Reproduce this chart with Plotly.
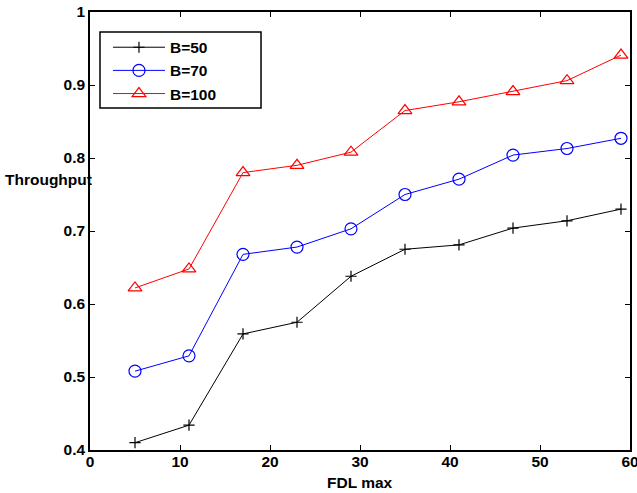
import plotly.graph_objects as go

fdl = [5, 11, 17, 23, 29, 35, 41, 47, 53, 59]
b50 = [0.410, 0.434, 0.559, 0.575, 0.638, 0.675, 0.681, 0.704, 0.714, 0.730]
b70 = [0.508, 0.529, 0.668, 0.678, 0.703, 0.750, 0.771, 0.804, 0.813, 0.827]
b100 = [0.622, 0.648, 0.780, 0.790, 0.808, 0.865, 0.877, 0.891, 0.906, 0.941]

FONT = "Liberation Sans, Arial, Helvetica, sans-serif"
FS = 15.5

fig = go.Figure()
fig.add_trace(go.Scatter(x=fdl, y=b50, name="B=50", mode="lines+markers",
                         line=dict(color="black", width=1),
                         marker=dict(symbol="cross-thin", size=8,
                                     line=dict(color="black", width=1.2))))
fig.add_trace(go.Scatter(x=fdl, y=b70, name="B=70", mode="lines+markers",
                         line=dict(color="#0000ff", width=1),
                         marker=dict(symbol="circle-open", size=12,
                                     color="#0000ff", line=dict(width=1.2))))
fig.add_trace(go.Scatter(x=fdl, y=b100, name="B=100", mode="lines+markers",
                         line=dict(color="#ff0000", width=1),
                         marker=dict(symbol="triangle-up-open", size=12,
                                     color="#ff0000", line=dict(width=1.2))))

axis_common = dict(showline=True, linecolor="black", linewidth=1.5, mirror="ticks",
                   ticks="inside", ticklen=5, tickwidth=1, tickcolor="black",
                   showgrid=False, zeroline=False, automargin=False,
                   ticklabeloverflow="allow",
                   tickfont=dict(family=FONT, size=FS, color="black", weight="bold"))

fig.update_xaxes(range=[0, 60], tickvals=[0, 10, 20, 30, 40, 50, 60],
                 ticklabelstandoff=-3, **axis_common)
fig.update_yaxes(range=[0.4, 1.0], tickvals=[0.4, 0.5, 0.6, 0.7, 0.8, 0.9, 1.0],
                 ticktext=["0.4", "0.5", "0.6", "0.7", "0.8", "0.9", "1"], **axis_common)

fig.add_annotation(text="Throughput", xref="paper", yref="paper", x=0.0074, y=0.618,
                   xanchor="right", yanchor="middle", showarrow=False,
                   font=dict(family=FONT, size=FS, color="black", weight="bold"))
fig.add_annotation(text="FDL max", xref="paper", yref="paper", x=0.5, y=-0.074,
                   xanchor="center", yanchor="middle", showarrow=False,
                   font=dict(family=FONT, size=FS, color="black", weight="bold"))

# legend frame
fig.add_shape(type="rect", xref="paper", yref="paper",
              x0=0.0185, x1=0.3167, y0=0.781, y1=0.9544,
              line=dict(color="black", width=1.5), fillcolor="white", layer="above")

fig.update_layout(
    width=637, height=493,
    margin=dict(l=90, r=7, t=12, b=42.5),
    paper_bgcolor="white", plot_bgcolor="white",
    showlegend=True,
    legend=dict(x=0.0333, y=0.9574, xanchor="left", yanchor="top",
                bgcolor="rgba(0,0,0,0)", borderwidth=0,
                itemwidth=52,
                font=dict(family=FONT, size=FS, color="black", weight="bold")),
)

fig.write_html("out.html")
